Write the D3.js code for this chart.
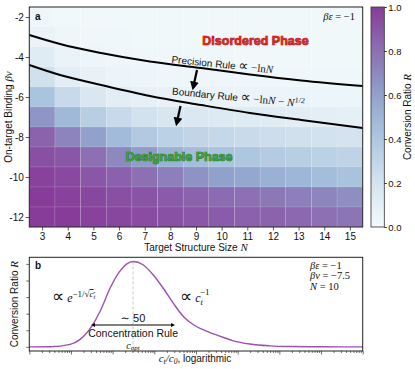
<!DOCTYPE html>
<html><head><meta charset="utf-8">
<script src="https://cdn.jsdelivr.net/npm/d3@7"></script>
<style>
body{margin:0;background:#fff}
svg{display:block}
text{font-family:"Liberation Sans",Arial,sans-serif;fill:#111}
.m{font-family:"Liberation Serif","DejaVu Serif",serif}
.p{font-family:"DejaVu Sans",sans-serif}
</style>
</head><body><svg id="c" width="415" height="369"></svg>
<script>
// ---------- data ----------
const sizes = [3,4,5,6,7,8,9,10,11,12,13,14,15];
const bindings = [-2,-3,-4,-5,-6,-7,-8,-9,-10,-11,-12];
// conversion ratio R, rows = bindings, cols = sizes
const ratio = [
 [0.03,0.02,0.02,0.02,0.02,0.02,0.02,0.02,0.02,0.02,0.02,0.02,0.02],
 [0.07,0.04,0.03,0.03,0.02,0.02,0.02,0.02,0.02,0.02,0.02,0.02,0.02],
 [0.13,0.07,0.05,0.04,0.03,0.03,0.03,0.03,0.02,0.02,0.02,0.02,0.02],
 [0.22,0.12,0.08,0.06,0.05,0.04,0.04,0.04,0.03,0.03,0.03,0.03,0.03],
 [0.42,0.27,0.17,0.12,0.09,0.08,0.07,0.07,0.06,0.06,0.06,0.05,0.05],
 [0.65,0.48,0.35,0.27,0.21,0.18,0.16,0.15,0.14,0.13,0.12,0.11,0.10],
 [0.85,0.72,0.60,0.47,0.38,0.33,0.30,0.28,0.26,0.24,0.22,0.21,0.20],
 [0.93,0.90,0.80,0.70,0.62,0.52,0.46,0.42,0.40,0.37,0.35,0.33,0.31],
 [0.98,0.95,0.90,0.86,0.80,0.74,0.66,0.60,0.57,0.53,0.50,0.46,0.43],
 [1.00,0.98,0.96,0.93,0.91,0.88,0.85,0.82,0.80,0.77,0.74,0.71,0.68],
 [1.00,1.00,0.98,0.96,0.94,0.92,0.90,0.88,0.86,0.85,0.83,0.80,0.78]
];
const yTicksA = [-2,-4,-6,-8,-10,-12];
const cbTicks = [0,0.2,0.4,0.6,0.8,1.0];
// rule curves: [N, beta v]
const precisionN = [2.5,3.7,5.3,7.2,9.2,11.1,13.1,15.5];
const precisionV = [-2.9,-3.35,-3.8,-4.225,-4.55,-4.875,-5.175,-5.45];
const boundaryN  = [2.5,3.7,5.3,7.2,9.2,11.1,13.1,15.5];
const boundaryV  = [-4.4,-4.9,-5.4,-5.95,-6.4,-6.8,-7.15,-7.55];
// panel b: log10(c_t/c_0) and R
const logConc = [0,0.5,0.98,1.22,1.5,1.7,1.94,2.17,2.34,2.49,2.73,2.97,3.21,3.45,3.69,3.93,4.25,4.57,4.88,5.29,5.77,6.25,7,8];
const convR   = [0,0.002,0.03,0.09,0.25,0.43,0.71,0.91,1.0,1.03,0.99,0.87,0.71,0.53,0.37,0.27,0.19,0.13,0.076,0.034,0.012,0.004,0.001,0];
const logOpt = 2.49;
const ruleSpan = [1.53, 3.45];
const yTicksB = [0,0.2,0.4,0.6,0.8,1.0];

// ---------- drawing ----------
const svg = d3.select("#c");
const A = {l:29.3, r:362.7, t:7, b:227};
const x = d3.scaleLinear().domain([2.5,15.5]).range([A.l,A.r]);
const y = d3.scaleLinear().domain([-12.5,-1.5]).range([A.b,A.t]);
const col = t => d3.interpolateBuPu(0.02 + 0.74*t);

const gA = svg.append("g");
const cells = [];
bindings.forEach((b,i)=>sizes.forEach((n,j)=>cells.push({n,b,v:ratio[i][j]})));
gA.selectAll("rect.cell").data(cells).enter().append("rect")
  .attr("x",d=>x(d.n-0.5)).attr("y",d=>y(d.b+0.5))
  .attr("width",d=>x(d.n+0.5)-x(d.n-0.5)).attr("height",d=>y(d.b-0.5)-y(d.b+0.5))
  .attr("fill",d=>col(d.v)).attr("stroke","#fff").attr("stroke-opacity",0.18).attr("stroke-width",0.6);

const line = d3.line().x(d=>x(d[0])).y(d=>y(d[1])).curve(d3.curveMonotoneX);
gA.append("path").datum(d3.zip(precisionN,precisionV)).attr("d",line)
  .attr("fill","none").attr("stroke","#000").attr("stroke-width",2);
gA.append("path").datum(d3.zip(boundaryN,boundaryV)).attr("d",line)
  .attr("fill","none").attr("stroke","#000").attr("stroke-width",2);

// axes
const axL = gA.append("g").attr("transform",`translate(${A.l},0)`)
  .call(d3.axisLeft(y).tickValues(yTicksA).tickSize(3.5).tickPadding(2).tickFormat(d=>String(d)));
const axB = gA.append("g").attr("transform",`translate(0,${A.b})`)
  .call(d3.axisBottom(x).tickValues(sizes).tickSize(3.5).tickPadding(2));
[axL,axB].forEach(a=>{a.select(".domain").remove();a.selectAll("text").attr("font-size",10).attr("fill","#111").style("font-family","Liberation Sans, Arial");a.selectAll("line").attr("stroke","#333").attr("stroke-width",0.8);});
gA.append("rect").attr("x",A.l).attr("y",A.t).attr("width",A.r-A.l).attr("height",A.b-A.t)
  .attr("fill","none").attr("stroke","#222").attr("stroke-width",1);

// labels
gA.append("text").attr("x",(A.l+A.r)/2).attr("y",251).attr("text-anchor","middle").attr("font-size",10)
  .html('Target Structure Size <tspan class="m" font-style="italic" font-size="11">N</tspan>');
gA.append("text").attr("transform",`translate(12,${(A.t+A.b)/2}) rotate(-90)`).attr("text-anchor","middle").attr("font-size",10)
  .html('On-target Binding <tspan class="m" font-style="italic" font-size="11">βv</tspan>');
gA.append("text").attr("x",35).attr("y",20).attr("font-size",10).attr("font-weight","bold").text("a");
gA.append("text").attr("class","m").attr("x",355).attr("y",20).attr("text-anchor","end").attr("font-size",10.5)
  .html('<tspan font-style="italic">βε</tspan> = −1');
gA.append("text").attr("x",255.5).attr("y",44.5).attr("text-anchor","middle").attr("font-size",12.5).attr("font-weight","bold")
  .style("fill","#e3221d").attr("stroke","#8a0f0f").attr("stroke-width",0.7).attr("paint-order","stroke").text("Disordered Phase");
gA.append("text").attr("x",179).attr("y",160.5).attr("text-anchor","middle").attr("font-size",12.5).attr("font-weight","bold")
  .style("fill","#35a535").attr("stroke","#1d5f1d").attr("stroke-width",0.7).attr("paint-order","stroke").text("Designable Phase");
gA.append("text").attr("transform","translate(222,68) rotate(6)").attr("text-anchor","middle").attr("font-size",10)
  .html('Precision Rule <tspan class="p" style="font-size:14px">∝</tspan><tspan class="m" font-size="11"> −ln<tspan font-style="italic">N</tspan></tspan>');
gA.append("text").attr("transform","translate(238,101) rotate(5.5)").attr("text-anchor","middle").attr("font-size",10)
  .html('Boundary Rule <tspan class="p" style="font-size:14px">∝</tspan><tspan class="m" font-size="11"> −ln<tspan font-style="italic">N</tspan> − <tspan font-style="italic">N</tspan><tspan font-size="8" dy="-4">1/2</tspan></tspan>');

// arrows
const defs = svg.append("defs");
defs.append("marker").attr("id","ah").attr("viewBox","0 0 10 10").attr("refX",5).attr("refY",5)
  .attr("markerWidth",4).attr("markerHeight",4).attr("orient","auto-start-reverse")
  .append("path").attr("d","M0,0 L10,5 L0,10 z").attr("fill","#000");
gA.append("line").attr("x1",197).attr("y1",70).attr("x2",193.5).attr("y2",86).attr("stroke","#000").attr("stroke-width",2.2).attr("marker-end","url(#ah)");
gA.append("line").attr("x1",180.5).attr("y1",106).attr("x2",177).attr("y2",122).attr("stroke","#000").attr("stroke-width",2.2).attr("marker-end","url(#ah)");

// colorbar
const C = {l:371, r:384.3};
const cy = d3.scaleLinear().domain([0,1]).range([A.b,A.t]);
const grad = defs.append("linearGradient").attr("id","cbg").attr("x1",0).attr("y1",1).attr("x2",0).attr("y2",0);
d3.range(0,1.0001,0.05).forEach(t=>grad.append("stop").attr("offset",t).attr("stop-color",col(t)));
svg.append("rect").attr("x",C.l).attr("y",A.t).attr("width",C.r-C.l).attr("height",A.b-A.t).attr("fill","url(#cbg)").attr("stroke","#333").attr("stroke-width",0.8);
const axC = svg.append("g").attr("transform",`translate(${C.r},0)`)
  .call(d3.axisRight(cy).tickValues(cbTicks).tickSize(2.5).tickPadding(1.5).tickFormat(d3.format(".1f")));
axC.select(".domain").remove();
axC.selectAll("text").attr("font-size",9.5).attr("fill","#111");
axC.selectAll("line").attr("stroke","#333");
svg.append("text").attr("transform",`translate(411,${(A.t+A.b)/2}) rotate(-90)`).attr("text-anchor","middle").attr("font-size",10)
  .html('Conversion Ratio <tspan class="m" font-style="italic" font-size="11">R</tspan>');

// ---------- panel b ----------
const B = {l:29.3, r:362.7, t:257.3, b:351};
const xb = d3.scaleLog().domain([1,1e8]).range([B.l,B.r]);
const yb = d3.scaleLinear().domain([-0.05,1.08]).range([B.b,B.t]);
const gB = svg.append("g");
gB.append("line").attr("x1",xb(10**logOpt)).attr("x2",xb(10**logOpt)).attr("y1",yb(1.03)).attr("y2",B.b)
  .attr("stroke","#bbb").attr("stroke-dasharray","3,2").attr("stroke-width",0.8);
const lineB = d3.line().x(d=>xb(10**d[0])).y(d=>yb(d[1])).curve(d3.curveMonotoneX);
gB.append("path").datum(d3.zip(logConc,convR)).attr("d",lineB).attr("fill","none").attr("stroke","#9d4fb3").attr("stroke-width",1.4);
const axBL = gB.append("g").attr("transform",`translate(${B.l},0)`).call(d3.axisLeft(yb).tickValues(yTicksB).tickSize(3).tickFormat(""));
const allT = xb.ticks();
const axBB = gB.append("g").attr("transform",`translate(0,${B.b})`).call(d3.axisBottom(xb).tickValues(allT).tickSize(2).tickFormat(""));
axBB.selectAll(".tick line").filter(d=>Math.abs(Math.log10(d)-Math.round(Math.log10(d)))<1e-9).attr("y2",3.5);
[axBL,axBB].forEach(a=>{a.select(".domain").remove();a.selectAll("line").attr("stroke","#333").attr("stroke-width",0.7);});
gB.append("rect").attr("x",B.l).attr("y",B.t).attr("width",B.r-B.l).attr("height",B.b-B.t).attr("fill","none").attr("stroke","#222").attr("stroke-width",1);

gB.append("text").attr("x",35).attr("y",269).attr("font-size",10).attr("font-weight","bold").text("b");
gB.append("text").attr("transform",`translate(18,${(B.t+B.b)/2}) rotate(-90)`).attr("text-anchor","middle").attr("font-size",10)
  .html('Conversion Ratio <tspan class="m" font-style="italic" font-size="11">R</tspan>');
gB.append("text").attr("x",195).attr("y",362).attr("text-anchor","middle").attr("font-size",10)
  .html('<tspan class="m" font-style="italic" font-size="11">c<tspan font-size="7.5" dy="2">t</tspan><tspan dy="-2">/</tspan>c<tspan font-size="7.5" dy="2">0</tspan></tspan><tspan dy="-2">, logarithmic</tspan>');
// annotations
gB.append("text").attr("x",52).attr("y",302).attr("font-size",12)
  .html('<tspan class="p" style="font-size:17px">∝</tspan><tspan class="m" font-style="italic"> e</tspan><tspan class="m" font-size="9" dy="-5">−1/√</tspan><tspan class="m" font-size="9" font-style="italic" style="text-decoration:overline">c<tspan font-size="6.5" dy="1.5">t</tspan></tspan>');
gB.append("text").attr("x",180).attr("y",302).attr("font-size",12)
  .html('<tspan class="p" style="font-size:17px">∝</tspan><tspan class="m" font-style="italic"> c</tspan><tspan class="m" font-size="8.5" font-style="italic" dy="3">t</tspan><tspan class="m" font-size="9" dx="-3" dy="-10">−1</tspan>');
gB.append("line").attr("x1",xb(10**ruleSpan[0])).attr("x2",xb(10**ruleSpan[1])).attr("y1",325).attr("y2",325)
  .attr("stroke","#000").attr("stroke-width",1).attr("marker-start","url(#ah)").attr("marker-end","url(#ah)");
gB.append("text").attr("x",xb(10**logOpt)).attr("y",322).attr("text-anchor","middle").attr("font-size",11)
  .html('<tspan class="p">∼</tspan> 50');
gB.append("text").attr("x",xb(10**logOpt)).attr("y",336.5).attr("text-anchor","middle").attr("font-size",10.5).text("Concentration Rule");
gB.append("text").attr("class","m").attr("x",xb(10**logOpt)).attr("y",348.5).attr("text-anchor","middle").attr("font-size",10).attr("font-style","italic")
  .html('c<tspan font-size="7" dy="1.5">opt</tspan>');
const info = gB.append("text").attr("class","m").attr("font-size",10.5);
info.append("tspan").attr("x",310).attr("y",268.5).html('<tspan font-style="italic">βε</tspan> = −1');
info.append("tspan").attr("x",310).attr("y",279).html('<tspan font-style="italic">βv</tspan> = −7.5');
info.append("tspan").attr("x",310).attr("y",289.5).html('<tspan font-style="italic">N</tspan> = 10');
</script>
</body></html>
